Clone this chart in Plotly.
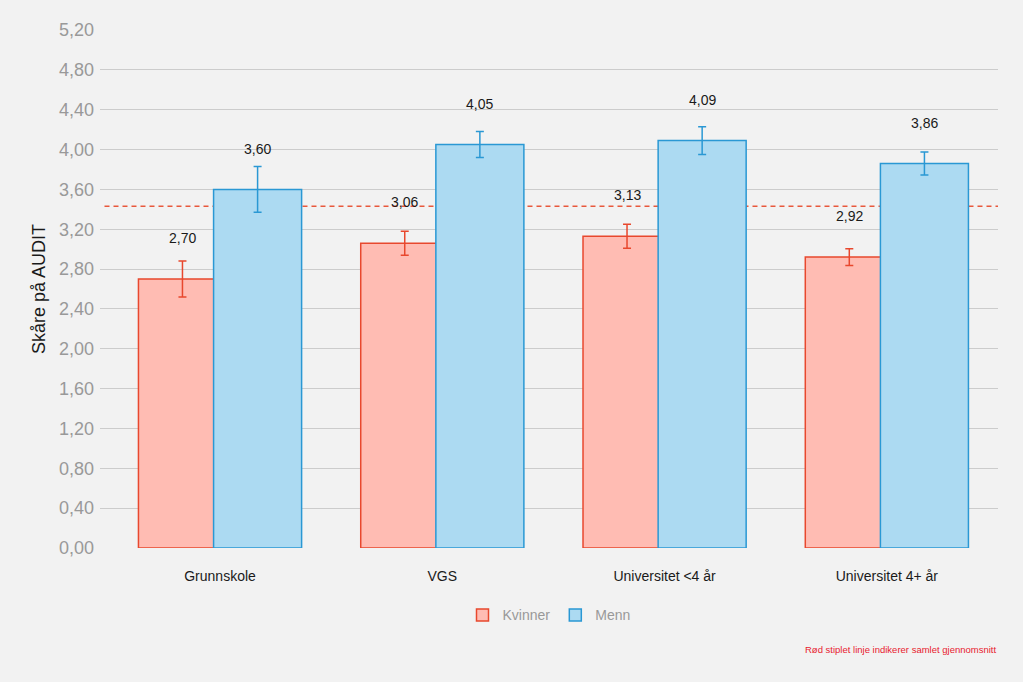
import plotly.graph_objects as go

categories = ["Grunnskole", "VGS", "Universitet <4 år", "Universitet 4+ år"]
kvinner = [2.70, 3.06, 3.13, 2.92]
menn = [3.60, 4.05, 4.09, 3.86]
kvinner_err = [0.18, 0.12, 0.12, 0.085]
menn_err = [0.23, 0.13, 0.14, 0.115]
overall_mean = 3.43
y_ticks = [round(0.4 * i, 2) for i in range(14)]

BG = "#f2f2f2"
PINK_FILL = "#ffbcb3"
PINK_LINE = "#e8482e"
BLUE_FILL = "#acdaf2"
BLUE_LINE = "#2a98d4"

bar_w = 0.396
shift = 0.169
xpos = list(range(len(categories)))

fig = go.Figure()
fig.add_trace(go.Bar(
    name="Kvinner", x=xpos, y=kvinner, width=bar_w, offset=-shift - bar_w / 2,
    marker=dict(color=PINK_FILL, line=dict(color=PINK_LINE, width=1.5)),
    error_y=dict(type="data", array=kvinner_err, color=PINK_LINE, thickness=1.5, width=4),
))
fig.add_trace(go.Bar(
    name="Menn", x=xpos, y=menn, width=bar_w, offset=shift - bar_w / 2,
    marker=dict(color=BLUE_FILL, line=dict(color=BLUE_LINE, width=1.5)),
    error_y=dict(type="data", array=menn_err, color=BLUE_LINE, thickness=1.5, width=4),
))

fig.add_shape(type="line", xref="paper", yref="y", x0=0.005, x1=1, y0=overall_mean, y1=overall_mean,
              line=dict(color="#e8583c", width=1.5, dash="5px,4px"), layer="below")

annotations = []
for i in xpos:
    annotations.append(dict(x=i - shift, y=kvinner[i] + 0.41, xref="x", yref="y",
                            text=f"{kvinner[i]:.2f}".replace(".", ","), showarrow=False,
                            font=dict(size=14, color="#1a1a1a", family="Liberation Sans, Arial")))
    annotations.append(dict(x=i + shift, y=menn[i] + 0.41, xref="x", yref="y",
                            text=f"{menn[i]:.2f}".replace(".", ","), showarrow=False,
                            font=dict(size=14, color="#1a1a1a", family="Liberation Sans, Arial")))
annotations.append(dict(x=1, y=-0.195, xref="paper", yref="paper", xanchor="right", yanchor="middle",
                        text="Rød stiplet linje indikerer samlet gjennomsnitt", showarrow=False,
                        font=dict(size=9.5, color="#e8212f", family="Liberation Sans, Arial")))

fig.update_layout(
    width=1023, height=682,
    paper_bgcolor=BG, plot_bgcolor=BG,
    barmode="overlay",
    separators=",.",
    margin=dict(l=100, r=25, t=30, b=134),
    font=dict(family="Liberation Sans, Arial", color="#1a1a1a"),
    showlegend=True,
    legend=dict(orientation="h", x=0.5, xanchor="center", y=-0.13, yanchor="middle",
                font=dict(size=14, color="#999999"), bgcolor="rgba(0,0,0,0)"),
    annotations=annotations,
    xaxis=dict(tickmode="array", tickvals=xpos, ticktext=categories, range=[-0.54, 3.5],
               showgrid=False, zeroline=False, showline=False, ticks="",
               tickfont=dict(size=14, color="#1a1a1a"), ticklabelstandoff=18),
    yaxis=dict(range=[0, 5.2], tickvals=y_ticks, tickformat=".2f",
               showgrid=True, gridcolor="#cccccc", gridwidth=1.2, zeroline=False, showline=False,
               tickfont=dict(size=18, color="#999999"), ticklabelstandoff=5,
               title=dict(text="Skåre på AUDIT", font=dict(size=18, color="#1a1a1a"), standoff=8)),
)

fig.write_html("out.html", config={"displayModeBar": False},
               post_script="document.body.style.margin='0';document.body.style.background='#f2f2f2';")
